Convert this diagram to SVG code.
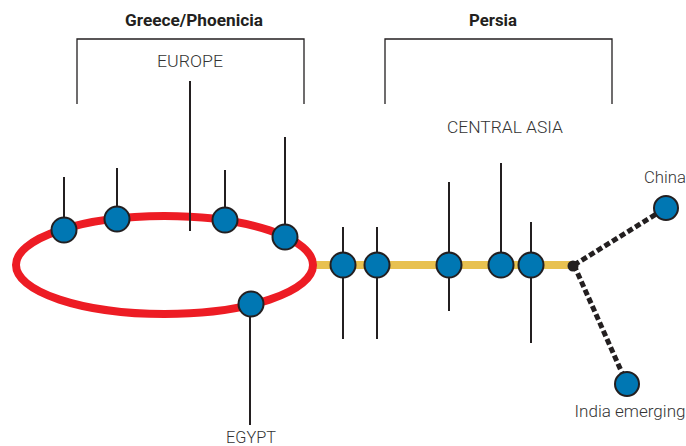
<svg xmlns="http://www.w3.org/2000/svg" width="686" height="446" viewBox="0 0 686 446">
  <style>
    .title { font-family: "Roboto", "Liberation Sans", sans-serif; font-weight: 700; font-size: 17px; fill: #231f20; }
    .region { font-family: "Roboto", "Liberation Sans", sans-serif; font-weight: 300; font-size: 16px; fill: #333333; }
    .bracket { fill: none; stroke: #231f20; stroke-width: 1.3; }
    .stem { stroke: #231f20; stroke-width: 2; fill: none; }
    .node circle { fill: #0077b3; stroke: #231f20; stroke-width: 2; }
    .dash { stroke: #231f20; stroke-width: 5; stroke-dasharray: 6 3; fill: none; }
  </style>

  <!-- headings and brackets -->
  <text class="title" x="194" y="26" text-anchor="middle" textLength="138" lengthAdjust="spacingAndGlyphs">Greece/Phoenicia</text>
  <text class="title" x="493" y="26" text-anchor="middle" textLength="48" lengthAdjust="spacingAndGlyphs">Persia</text>
  <path class="bracket" d="M77,104 V39 H304 V104"/>
  <path class="bracket" d="M385,104 V39 H612 V104"/>

  <!-- region labels -->
  <text class="region" x="190" y="67" text-anchor="middle" textLength="66" lengthAdjust="spacingAndGlyphs">EUROPE</text>
  <text class="region" x="505" y="133" text-anchor="middle" textLength="116" lengthAdjust="spacingAndGlyphs">CENTRAL ASIA</text>
  <text class="region" x="251" y="443" text-anchor="middle" textLength="50" lengthAdjust="spacingAndGlyphs">EGYPT</text>
  <text class="region" x="665" y="183" text-anchor="middle" textLength="42" lengthAdjust="spacingAndGlyphs">China</text>
  <text class="region" x="630" y="417" text-anchor="middle" textLength="111" lengthAdjust="spacingAndGlyphs">India emerging</text>

  <!-- connectors: routes and stems -->
  <g id="connectors">
    <line x1="310" y1="265" x2="574" y2="265" stroke="#e8c150" stroke-width="8"/>
    <ellipse cx="164.5" cy="265" rx="148.5" ry="49" fill="none" stroke="#ed1c24" stroke-width="8"/>
    <line class="stem" x1="190" y1="81" x2="190" y2="231"/>
    <line class="stem" x1="64" y1="177" x2="64" y2="230"/>
    <line class="stem" x1="117" y1="168" x2="117" y2="219"/>
    <line class="stem" x1="225" y1="170" x2="225" y2="220"/>
    <line class="stem" x1="285" y1="137" x2="285" y2="237"/>
    <line class="stem" x1="250" y1="304" x2="250" y2="425"/>
    <line class="stem" x1="343" y1="227" x2="343" y2="339"/>
    <line class="stem" x1="377" y1="227" x2="377" y2="339"/>
    <line class="stem" x1="449" y1="182" x2="449" y2="311"/>
    <line class="stem" x1="501" y1="163" x2="501" y2="265"/>
    <line class="stem" x1="531" y1="222" x2="531" y2="343"/>
    <line class="dash" x1="574" y1="265" x2="666" y2="208"/>
    <line class="dash" x1="574" y1="265" x2="627" y2="384"/>
    <circle cx="573" cy="266" r="5.5" fill="#231f20"/>
  </g>

  <!-- stops -->
  <g id="stop-1" class="node"><circle cx="64" cy="230" r="12.5"/></g>
  <g id="stop-2" class="node"><circle cx="117" cy="219" r="12.5"/></g>
  <g id="stop-3" class="node"><circle cx="225" cy="220" r="12.5"/></g>
  <g id="stop-4" class="node"><circle cx="285" cy="237" r="12.5"/></g>
  <g id="egypt" class="node"><circle cx="251" cy="304" r="12.5"/></g>
  <g id="stop-5" class="node"><circle cx="343" cy="265" r="12.5"/></g>
  <g id="stop-6" class="node"><circle cx="377" cy="265" r="12.5"/></g>
  <g id="stop-7" class="node"><circle cx="449" cy="265" r="12.5"/></g>
  <g id="stop-8" class="node"><circle cx="501" cy="265" r="12.5"/></g>
  <g id="stop-9" class="node"><circle cx="531" cy="265" r="12.5"/></g>
  <g id="china" class="node"><circle cx="666" cy="208" r="12"/></g>
  <g id="india" class="node"><circle cx="627" cy="384" r="12"/></g>
</svg>
